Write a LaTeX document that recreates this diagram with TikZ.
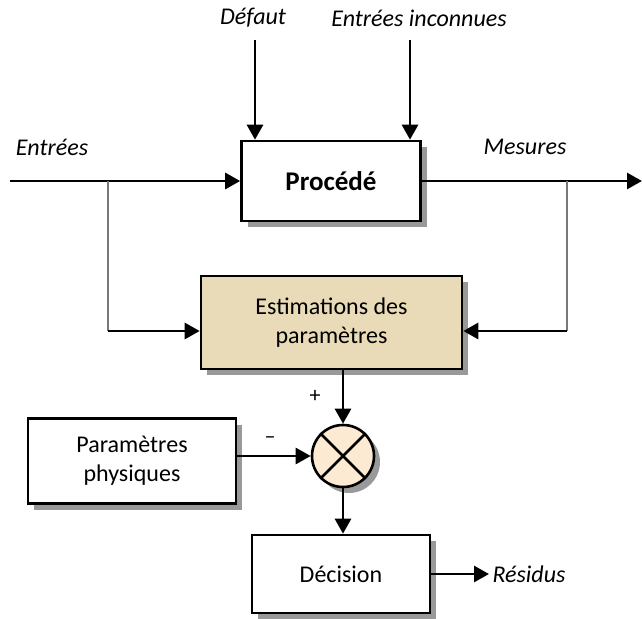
\documentclass[tikz,border=0pt]{standalone}
\usepackage{fontspec}
\setmainfont{Carlito}
\usetikzlibrary{arrows.meta,shadows}
\definecolor{parchment}{RGB}{233,219,184}
\definecolor{cream}{RGB}{252,235,210}
\definecolor{linegray}{RGB}{120,120,120}

\begin{document}
\begin{tikzpicture}[x=1pt, y=-1pt,
  block/.style={draw=black, line width=2.6pt, fill=white, inner sep=0pt,
    align=center, font=\fontsize{24}{29}\selectfont,
    drop shadow={shadow xshift=6pt, shadow yshift=-6pt, fill=gray!80, opacity=1}},
  lbl/.style={font=\fontsize{24}{28}\selectfont\itshape},
  sgn/.style={font=\fontsize{22}{26}\selectfont},
  arr/.style={-{Triangle[length=15pt,width=16pt]}, line width=2.8pt},
  tap/.style={linegray, line width=1.5pt},
]
  \useasboundingbox (0,0) rectangle (642,618);

  \node[block, minimum width=179pt, minimum height=80pt, font=\fontsize{27}{31}\selectfont\bfseries]
    (proc) at (331,181) {Procédé};
  \node[block, fill=parchment, minimum width=261pt, minimum height=93pt]
    (est) at (331.5,322.5) {Estimations des\\paramètres};
  \node[block, minimum width=208pt, minimum height=85pt]
    (phys) at (132,461) {Paramètres\\physiques};
  \node[block, circle, fill=cream, minimum size=62pt] (comp) at (343,456) {};
  \draw[line width=2.6pt] (comp.north west) -- (comp.south east)
    (comp.north east) -- (comp.south west);
  \node[block, minimum width=178pt, minimum height=78pt] (dec) at (341,574) {Décision};

  % entrees et sorties
  \coordinate (in) at (10,181);
  \coordinate (out) at (642,181);
  \coordinate (fault) at (255,40);
  \coordinate (unk) at (410,40);
  \draw[arr] (in) -- (proc.west);
  \draw[arr] (proc.east) -- (out);
  \draw[arr] (fault) -- (fault |- proc.north);
  \draw[arr] (unk) -- (unk |- proc.north);

  % prises vers l'estimateur
  \coordinate (tapl) at (108,181);
  \coordinate (tapr) at (567,181);
  \coordinate (cornl) at (108,331);
  \coordinate (cornr) at (567,331);
  \draw[tap] (tapl) -- (cornl);
  \draw[tap] (tapr) -- (cornr);
  \draw[arr] (cornl) -- (cornl -| est.west);
  \draw[arr] (cornr) -- (cornr -| est.east);

  % comparaison et decision
  \draw[arr] (comp |- est.south) -- (comp.north);
  \draw[arr] (phys.east |- comp) -- (comp.west);
  \draw[arr] (comp.south) -- (comp |- dec.north);
  \coordinate (res) at (489,574);
  \draw[arr] (dec.east) -- (res);

  \node[lbl] (lfault) at (253,18) {Défaut};
  \node[lbl] (lunk) at (419,18) {Entrées inconnues};
  \node[lbl] (lin) at (52,147) {Entrées};
  \node[lbl] (lout) at (525,147) {Mesures};
  \node[lbl, anchor=west] (lres) at (res) {Résidus};
  \node[sgn] (plus) at (315,396) {+};
  \node[sgn] (minus) at (270,440) {--};
\end{tikzpicture}
\end{document}
